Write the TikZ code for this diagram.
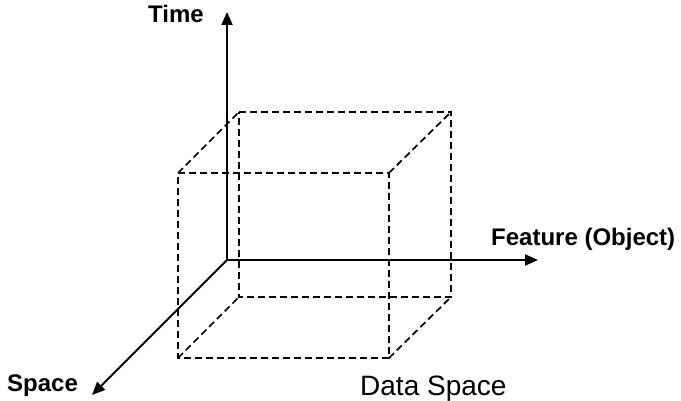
\documentclass[tikz,border=0pt]{standalone}
\usepackage{fontspec}
\setmainfont{Liberation Sans}
\usetikzlibrary{arrows.meta}
\begin{document}
\begin{tikzpicture}[x=1pt,y=-1pt,
  axis/.style={line width=2.1pt,-{Triangle[length=13pt,width=11pt]}},
  cubeedge/.style={line width=1.7pt,dash pattern=on 7pt off 4pt},
  boldlabel/.style={inner sep=0pt,font=\fontsize{24}{28}\selectfont\bfseries},
  plainlabel/.style={inner sep=0pt,font=\fontsize{28}{33}\selectfont}]
\useasboundingbox (0,0) rectangle (681,401);
% cube corners
\coordinate (F1) at (178,173);
\coordinate (F2) at (389,173);
\coordinate (F3) at (389,358);
\coordinate (F4) at (178,358);
\coordinate (B1) at (239,112);
\coordinate (B2) at (451,112);
\coordinate (B3) at (451,297);
\coordinate (B4) at (239,297);
\draw[cubeedge] (F1) -- (F2) -- (F3) -- (F4) -- cycle;
\draw[cubeedge] (B1) -- (B2) -- (B3) -- (B4) -- cycle;
\draw[cubeedge] (F1) -- (B1);
\draw[cubeedge] (F2) -- (B2);
\draw[cubeedge] (F3) -- (B3);
\draw[cubeedge] (F4) -- (B4);
% axes
\coordinate (O) at (227,260);
\coordinate (T) at (227,12);
\coordinate (FE) at (538,260);
\coordinate (S) at (92,395);
\draw[axis] (O) -- (T);
\draw[axis] (O) -- (FE);
\draw[axis] (O) -- (S);
% labels
\node[boldlabel,anchor=base east] (timelbl) at (204,23) {Time};
\node[boldlabel,anchor=base west] (featlbl) at (491,246) {Feature (Object)};
\node[boldlabel,anchor=base west] (spacelbl) at (7,391) {Space};
\node[plainlabel,anchor=base west] (datalbl) at (360,395) {Data Space};
\end{tikzpicture}
\end{document}
